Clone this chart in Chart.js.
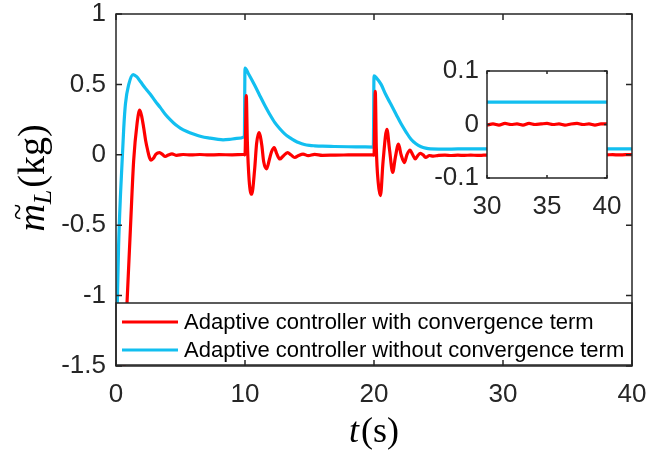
<!DOCTYPE html>
<html>
<head>
<meta charset="utf-8">
<script src="https://cdn.jsdelivr.net/npm/chart.js@4"></script>
<style>
  html, body { margin: 0; padding: 0; background: #fff; }
  #wrap { position: relative; width: 649px; height: 455px; }
  #main { position: absolute; left: 0; top: 0; }
  #inset { position: absolute; left: 400px; top: 40px; }
</style>
</head>
<body>
<div id="wrap">
  <canvas id="main" width="649" height="455" style="width:649px;height:455px"></canvas>
  <canvas id="inset" width="249" height="200" style="width:249px;height:200px"></canvas>
</div>
<script>
// series names
const seriesNames = [
  'Adaptive controller with convergence term',
  'Adaptive controller without convergence term'
];

// load mass estimation error, with convergence term (s, kg)
const tRed = [0, 0.4, 0.63, 0.86, 1.12, 1.37, 1.63, 1.84, 2.0, 2.15, 2.3, 2.46, 2.6, 2.72, 2.9, 3.1, 3.38, 3.6, 3.82, 4.05, 4.34, 4.7, 5.2, 5.8, 6.5, 7.2, 8, 9, 9.9,
  10.0, 10.1, 10.18, 10.32, 10.52, 10.75, 10.9, 11.08, 11.3, 11.45, 11.67, 11.9, 12.05, 12.26, 12.45, 12.7, 12.95, 13.3, 13.55, 13.86, 14.15, 14.5, 14.9, 15.4, 16, 17, 18, 19, 19.9,
  20.0, 20.1, 20.18, 20.33, 20.5, 20.7, 21.0, 21.2, 21.45, 21.65, 21.9, 22.1, 22.36, 22.55, 22.8, 23.0, 23.2, 23.4, 23.6, 23.8, 24.0, 24.3, 24.6, 25, 25.5, 26, 26.5, 27, 27.5, 28, 28.5, 29, 29.5,
  30, 30.5, 31, 31.5, 32, 32.5, 33, 33.5, 34, 34.5, 35, 35.5, 36, 36.5, 37, 37.5, 38, 38.5, 39, 39.5, 40];
const mRed = [-2.6, -1.95, -1.5, -1.04, -0.52, -0.04, 0.22, 0.317, 0.27, 0.19, 0.1, 0.03, -0.02, -0.038, -0.025, 0.005, 0.016, 0.003, -0.012, -0.002, 0.006, -0.004, 0.002, -0.001, 0.002, -0.001, 0.001, 0, 0.002,
  0.0, 0.42, 0.1, -0.18, -0.28, -0.1, 0.08, 0.158, 0.07, -0.05, -0.10, -0.03, 0.02, 0.052, 0.01, -0.03, -0.01, 0.016, 0, -0.019, -0.005, 0.005, -0.006, 0.003, -0.004, -0.002, -0.001, 0, 0,
  -0.003, 0.45, 0.05, -0.2, -0.29, -0.05, 0.18, 0.04, -0.125, -0.02, 0.076, 0, -0.055, 0, 0.033, 0, -0.03, -0.005, 0.01, 0, -0.019, -0.005, -0.01, -0.004, -0.002, -0.005, -0.003, -0.004, -0.002, -0.004, -0.003, -0.002, -0.003,
  -0.001, 0.001, -0.001, 0.002, 0.0, 0.001, -0.001, 0.002, 0.0, 0.001, 0.002, 0.0, 0.001, -0.001, 0.001, 0.002, 0.0, 0.001, -0.001, 0.001, 0.001];

// load mass estimation error, without convergence term (s, kg)
const tCyan = [0, 0.1, 0.2, 0.35, 0.6, 0.73, 0.99, 1.33, 1.6, 1.89, 2.3, 2.66, 3.05, 3.44, 3.8, 4.2, 4.6, 4.98, 5.5, 6.0, 6.6, 7.3, 7.8, 8.3, 8.8, 9.36, 9.95,
  10.0, 10.3, 10.77, 11.15, 11.54, 11.9, 12.3, 12.7, 13.1, 13.5, 13.86, 14.2, 14.6, 15.0, 15.4, 16, 16.9, 18, 19, 19.95,
  20.0, 20.2, 20.55, 20.9, 21.3, 21.7, 22.1, 22.5, 22.87, 23.25, 23.65, 24.0, 24.4, 25, 26, 27, 28, 30, 32, 34, 36, 38, 40];
const mCyan = [-1.7, -1.06, -0.65, -0.28, 0.19, 0.36, 0.5, 0.57, 0.555, 0.52, 0.47, 0.43, 0.38, 0.335, 0.29, 0.25, 0.215, 0.19, 0.165, 0.147, 0.13, 0.118, 0.111, 0.106, 0.109, 0.116, 0.128,
  0.615, 0.57, 0.49, 0.42, 0.35, 0.29, 0.23, 0.185, 0.147, 0.12, 0.1, 0.085, 0.073, 0.067, 0.064, 0.061, 0.059, 0.057, 0.056, 0.055,
  0.56, 0.545, 0.50, 0.43, 0.36, 0.29, 0.22, 0.16, 0.11, 0.078, 0.057, 0.047, 0.042, 0.041, 0.041, 0.042, 0.042, 0.042, 0.042, 0.042, 0.042, 0.042, 0.042];

// axis ticks
const xTicks = [0, 10, 20, 30, 40];
const yTicks = [-1.5, -1, -0.5, 0, 0.5, 1];
const insetXTicks = [30, 35, 40];
const insetYTicks = [-0.1, 0, 0.1];

const RED = '#ff0000';
const CYAN = '#12bff0';
const AXIS = '#262626';
const TICK_FONT = { family: 'Liberation Sans, Arial, sans-serif', size: 26 };

const toPoints = (ts, vs) => ts.map((t, i) => ({ x: t, y: vs[i] }));

function makeDatasets() {
  return [
    { label: seriesNames[0], data: toPoints(tRed, mRed), borderColor: RED, order: 1 },
    { label: seriesNames[1], data: toPoints(tCyan, mCyan), borderColor: CYAN, order: 2 }
  ].map(ds => Object.assign(ds, {
    borderWidth: 3.2, pointRadius: 0, fill: false, clip: 0,
    cubicInterpolationMode: 'monotone'
  }));
}

// box around the axes with ticks pointing inward, matlab style
function framePlugin(tickLen, xt, yt) {
  return {
    id: 'frame',
    beforeDatasetsDraw(chart) {
      const { ctx, chartArea: a } = chart;
      ctx.save();
      ctx.fillStyle = '#fff';
      ctx.fillRect(a.left, a.top, a.right - a.left, a.bottom - a.top);
      ctx.restore();
    },
    afterDraw(chart) {
      const { ctx, chartArea: a, scales } = chart;
      ctx.save();
      ctx.strokeStyle = AXIS;
      ctx.lineWidth = 1.5;
      ctx.strokeRect(a.left, a.top, a.right - a.left, a.bottom - a.top);
      ctx.beginPath();
      xt.forEach(v => {
        const px = scales.x.getPixelForValue(v);
        ctx.moveTo(px, a.bottom); ctx.lineTo(px, a.bottom - tickLen);
        ctx.moveTo(px, a.top); ctx.lineTo(px, a.top + tickLen);
      });
      yt.forEach(v => {
        const py = scales.y.getPixelForValue(v);
        ctx.moveTo(a.left, py); ctx.lineTo(a.left + tickLen, py);
        ctx.moveTo(a.right, py); ctx.lineTo(a.right - tickLen, py);
      });
      ctx.stroke();
      ctx.restore();
    }
  };
}

// legend box in the lower part of the axes
const legendBox = {
  id: 'legendBox',
  afterDatasetsDraw(chart) {
    const { ctx, chartArea: a } = chart;
    const top = 303, bottom = a.bottom - 1;
    ctx.save();
    ctx.fillStyle = '#fff';
    ctx.fillRect(a.left, top, a.right - a.left, bottom - top);
    ctx.strokeStyle = AXIS;
    ctx.lineWidth = 1.5;
    ctx.strokeRect(a.left, top, a.right - a.left, bottom - top);
    ctx.font = '22px "Liberation Sans", Arial, sans-serif';
    ctx.textBaseline = 'middle';
    ctx.fillStyle = '#000';
    chart.data.datasets.forEach((ds, i) => {
      const y = 322 + i * 28;
      ctx.strokeStyle = ds.borderColor;
      ctx.lineWidth = 3.2;
      ctx.beginPath();
      ctx.moveTo(122, y); ctx.lineTo(178, y);
      ctx.stroke();
      ctx.fillText(ds.label, 184, y + 1);
    });
    ctx.restore();
  }
};

// axis titles: t(s) and the tilde m_L(kg)
const axisTitles = {
  id: 'axisTitles',
  afterDraw(chart) {
    const { ctx } = chart;
    const serif = '"Liberation Serif", "Times New Roman", serif';
    ctx.save();
    ctx.fillStyle = '#000';
    ctx.textBaseline = 'alphabetic';

    // x title
    ctx.font = 'italic 36px ' + serif;
    const wT = ctx.measureText('t').width;
    ctx.font = '36px ' + serif;
    const wS = ctx.measureText('(s)').width;
    let x = 374 - (wT + wS + 2) / 2;
    ctx.font = 'italic 36px ' + serif;
    ctx.fillText('t', x, 442);
    ctx.font = '36px ' + serif;
    ctx.fillText('(s)', x + wT + 2, 442);

    // y title, rotated
    ctx.translate(44, 178);
    ctx.rotate(-Math.PI / 2);
    ctx.font = 'italic 38px ' + serif;
    const wM = ctx.measureText('m').width;
    ctx.font = 'italic 26px ' + serif;
    const wL = ctx.measureText('L').width;
    ctx.font = '38px ' + serif;
    const wKg = ctx.measureText('(kg)').width;
    x = -(wM + wL + wKg + 2) / 2;
    ctx.font = 'italic 38px ' + serif;
    ctx.fillText('m', x, 0);
    ctx.font = '30px ' + serif;
    ctx.fillText('~', x + wM * 0.42, -16);
    ctx.font = 'italic 26px ' + serif;
    ctx.fillText('L', x + wM, 7);
    ctx.font = '38px ' + serif;
    ctx.fillText('(kg)', x + wM + wL + 2, 0);
    ctx.restore();
  }
};

function scaleOpts(min, max, ticks, fit, pad) {
  return {
    type: 'linear', min, max,
    afterBuildTicks: s => { s.ticks = ticks.map(v => ({ value: v })); },
    afterFit: s => {
      fit(s);
      // keep tick labels from pushing the plot area inward
      s.paddingLeft = s.paddingRight = s.paddingTop = s.paddingBottom = 0;
    },
    grid: { display: false, drawTicks: false },
    border: { display: false },
    ticks: { font: TICK_FONT, color: AXIS, padding: pad, autoSkip: false, maxRotation: 0,
      callback: v => String(v) }
  };
}

new Chart(document.getElementById('main').getContext('2d'), {
  type: 'line',
  data: { datasets: makeDatasets() },
  options: {
    responsive: false,
    animation: false,
    layout: { padding: { left: 0, top: 14, right: 17, bottom: 0 } },
    scales: {
      x: scaleOpts(0, 40, xTicks, s => { s.height = 89; }, 13),
      y: scaleOpts(-1.5, 1, yTicks, s => { s.width = 116; }, 10)
    },
    plugins: { legend: { display: false }, tooltip: { enabled: false } }
  },
  plugins: [framePlugin(6, xTicks, yTicks), legendBox, axisTitles]
});

new Chart(document.getElementById('inset').getContext('2d'), {
  type: 'line',
  data: { datasets: makeDatasets() },
  options: {
    responsive: false,
    animation: false,
    layout: { padding: { left: 0, top: 31, right: 42, bottom: 0 } },
    scales: {
      x: scaleOpts(30, 40, insetXTicks, s => { s.height = 62; }, 13),
      y: scaleOpts(-0.1, 0.1, insetYTicks, s => { s.width = 87; }, 8)
    },
    plugins: { legend: { display: false }, tooltip: { enabled: false } }
  },
  plugins: [framePlugin(3, insetXTicks, insetYTicks)]
});
</script>
</body>
</html>
